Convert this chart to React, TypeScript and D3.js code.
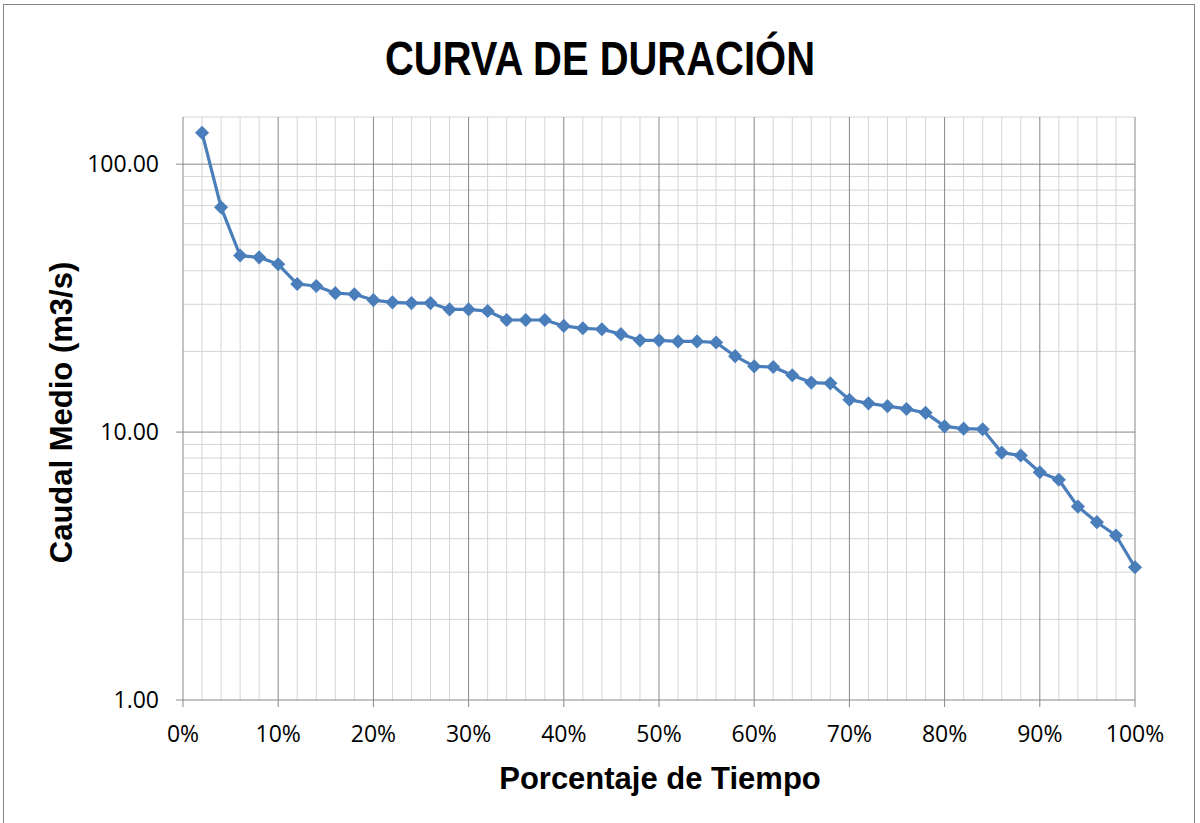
import * as d3 from "d3";

const pct = [
  2, 4, 6, 8, 10, 12, 14, 16, 18, 20, 22, 24, 26, 28, 30, 32, 34, 36, 38, 40, 42, 44, 46, 48, 50,
  52, 54, 56, 58, 60, 62, 64, 66, 68, 70, 72, 74, 76, 78, 80, 82, 84, 86, 88, 90, 92, 94, 96, 98, 100,
];
const caudal = [
  131, 69.0, 45.6, 44.9, 42.3, 35.7, 35.1, 33.0, 32.7, 31.1, 30.5, 30.3, 30.3, 28.7, 28.7, 28.3,
  26.2, 26.2, 26.2, 24.9, 24.4, 24.2, 23.2, 22.0, 22.0, 21.8, 21.8, 21.6, 19.2, 17.6, 17.5, 16.3,
  15.3, 15.2, 13.2, 12.8, 12.5, 12.2, 11.8, 10.5, 10.3, 10.25, 8.38, 8.18, 7.08, 6.64, 5.27, 4.61,
  4.11, 3.13,
];
const yTicks = [1, 10, 100];
const xTicks = [0, 10, 20, 30, 40, 50, 60, 70, 80, 90, 100];

const W = 1200;
const H = 823;
const left = 183;
const right = 1135;
const top = 117;
const bottom = 700;

export default function App() {
  const x = d3.scaleLinear().domain([0, 100]).range([left, right]);
  const y = d3.scaleLog().domain([1, 150]).range([bottom, top]);

  const minorX = d3.range(0, 101, 2).filter((v) => v % 10 !== 0);
  const minorY: number[] = [];
  [1, 10, 100].forEach((d) => {
    for (let k = 2; k <= 9; k++) if (d * k <= 150) minorY.push(d * k);
  });

  const line = d3
    .line<number>()
    .x((_, i) => x(pct[i]))
    .y((v) => y(v));

  // Excel-style diamond: a square turned 45 degrees
  const marker = d3.symbol().type(d3.symbolSquare).size(100)();

  return (
    <svg
      width={W}
      height={H}
      style={{ position: "absolute", left: 0, top: 0, background: "#fff" }}
    >
      <rect x={3.5} y={4.5} width={1191} height={830} fill="#fff" stroke="#868686" strokeWidth={1} />
      <text
        x={600}
        y={75}
        textAnchor="middle"
        fontFamily="'Liberation Sans Narrow', 'Liberation Sans', sans-serif"
        fontWeight="bold"
        fontSize={49}
        textLength={430}
        lengthAdjust="spacingAndGlyphs"
      >
        CURVA DE DURACIÓN
      </text>

      {/* minor grid */}
      {minorX.map((v) => (
        <line key={"mx" + v} x1={x(v)} x2={x(v)} y1={top} y2={bottom} stroke="#d4d4d4" strokeWidth={1} />
      ))}
      {minorY.map((v) => (
        <line key={"my" + v} x1={left} x2={right} y1={y(v)} y2={y(v)} stroke="#d4d4d4" strokeWidth={1} />
      ))}
      <line x1={left} x2={right} y1={top} y2={top} stroke="#d4d4d4" strokeWidth={1} />
      {/* major grid */}
      {xTicks.map((v) => (
        <line key={"Mx" + v} x1={x(v)} x2={x(v)} y1={top} y2={bottom + 7} stroke="#878787" strokeWidth={1} />
      ))}
      {yTicks.map((v) => (
        <line key={"My" + v} x1={left - 7} x2={right} y1={y(v)} y2={y(v)} stroke="#878787" strokeWidth={1} />
      ))}

      {/* tick labels */}
      {yTicks.map((v) => (
        <text
          key={"yt" + v}
          x={159}
          y={y(v)}
          dy="0.36em"
          textAnchor="end"
          fontFamily="'Open Sans', 'Liberation Sans', sans-serif"
          fontSize={23}
        >
          {d3.format(".2f")(v)}
        </text>
      ))}
      {xTicks.map((v) => (
        <text
          key={"xt" + v}
          x={x(v)}
          y={742}
          textAnchor="middle"
          fontFamily="'Open Sans', 'Liberation Sans', sans-serif"
          fontSize={23}
        >
          {v + "%"}
        </text>
      ))}

      <path d={line(caudal) || ""} fill="none" stroke="#4a7ebb" strokeWidth={3.2} strokeLinejoin="round" />
      {caudal.map((v, i) => (
        <path
          key={"p" + i}
          d={marker || ""}
          transform={`translate(${x(pct[i])},${y(v)}) rotate(45)`}
          fill="#4a7ebb"
        />
      ))}

      <text
        x={660}
        y={789}
        textAnchor="middle"
        fontFamily="'Liberation Sans', Arial, sans-serif"
        fontWeight="bold"
        fontSize={31}
      >
        Porcentaje de Tiempo
      </text>
      <text
        transform={`translate(72,${(top + bottom) / 2 + 4}) rotate(-90)`}
        textAnchor="middle"
        fontFamily="'Liberation Sans', Arial, sans-serif"
        fontWeight="bold"
        fontSize={31}
      >
        Caudal Medio (m3/s)
      </text>
    </svg>
  );
}
